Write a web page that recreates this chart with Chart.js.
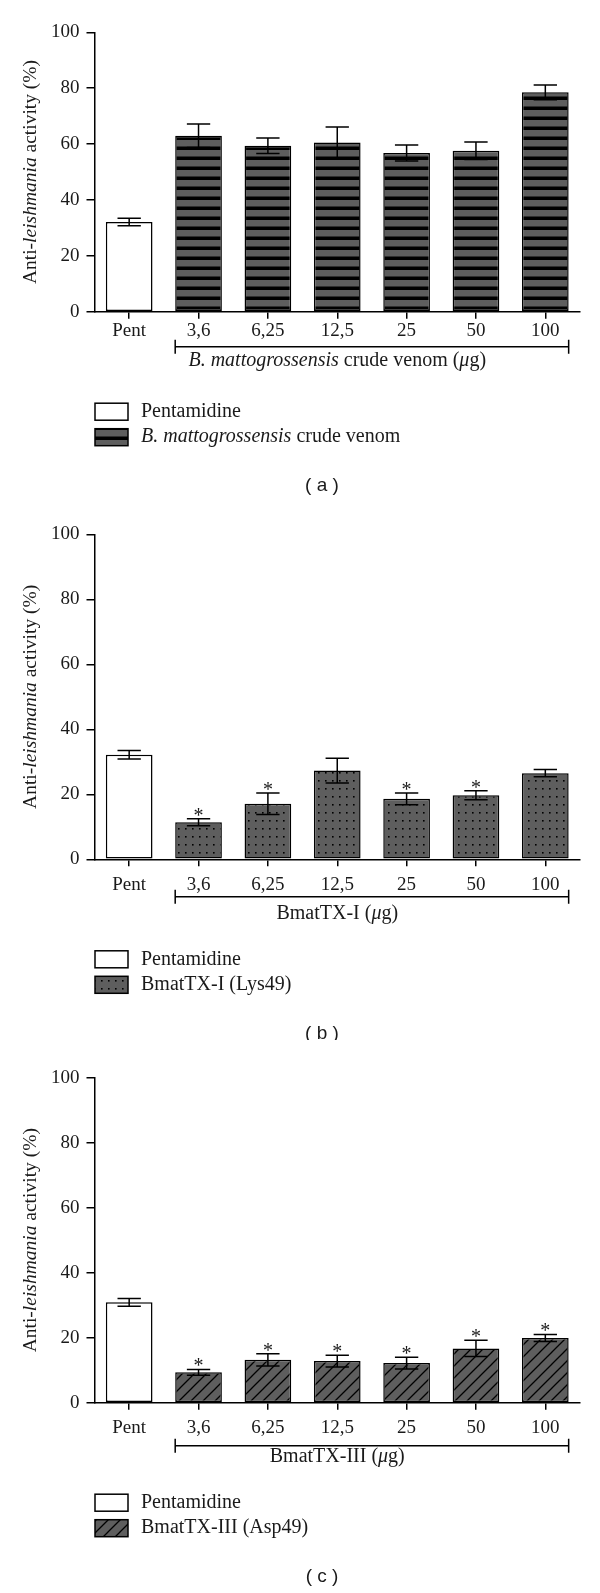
<!DOCTYPE html>
<html>
<head>
<meta charset="utf-8">
<script src="https://cdn.jsdelivr.net/npm/chart.js@4.4.1/dist/chart.umd.min.js"></script>
<style>
  html, body { margin: 0; padding: 0; background: #fff; }
  .panel { position: absolute; left: 0; width: 600px; }
  .panel canvas { display: block; }
</style>
</head>
<body>
<div class="panel" style="top:0"><canvas id="chartA" width="600" height="505"></canvas></div>
<div class="panel" style="top:505px"><canvas id="chartB" width="600" height="535"></canvas></div>
<div class="panel" style="top:1040px"><canvas id="chartC" width="600" height="553"></canvas></div>
<script>
// categories shared by the three panels
const categories = ["Pent", "3,6", "6,25", "12,5", "25", "50", "100"];
const yTicks = [0, 20, 40, 60, 80, 100];

// (a) crude venom
const pentA = 32.1;
const pentErrA = 1.35;
const venomA = [63.0, 59.4, 60.6, 56.8, 57.6, 78.5];
const venomErrA = [4.2, 2.8, 5.5, 2.9, 3.1, 2.6];
const starsA = [0, 0, 0, 0, 0, 0];

// (b) BmatTX-I
const pentB = 32.2;
const pentErrB = 1.3;
const venomB = [11.4, 17.1, 27.3, 18.6, 19.7, 26.5];
const venomErrB = [1.1, 3.3, 3.8, 1.8, 1.4, 1.1];
const starsB = [1, 1, 0, 1, 1, 0];

// (c) BmatTX-III
const pentC = 30.9;
const pentErrC = 1.2;
const venomC = [9.35, 13.2, 12.8, 12.2, 16.7, 19.9];
const venomErrC = [0.9, 1.9, 1.8, 1.8, 2.5, 1.1];
const starsC = [1, 1, 1, 1, 1, 1];

// text pieces: [text, italic]
const yTitle = [["Anti-", false], ["leishmania", true], [" activity (%)", false]];
const pentLabel = [["Pentamidine", false]];
const seriesLabelA = [["B. mattogrossensis", true], [" crude venom", false]];
const seriesLabelB = [["BmatTX-I (Lys49)", false]];
const seriesLabelC = [["BmatTX-III (Asp49)", false]];
const xTitleA = [["B. mattogrossensis", true], [" crude venom (", false], ["\u03bc", true], ["g)", false]];
const xTitleB = [["BmatTX-I (", false], ["\u03bc", true], ["g)", false]];
const xTitleC = [["BmatTX-III (", false], ["\u03bc", true], ["g)", false]];

const SERIF = '"Liberation Serif", "DejaVu Serif", serif';
const GREY = "#5e5e5e";

function makePattern(kind) {
  const c = document.createElement("canvas");
  const g = c.getContext("2d");
  if (kind === "stripes") {
    c.width = 10; c.height = 10;
    g.fillStyle = GREY; g.fillRect(0, 0, 10, 10);
    g.fillStyle = "#000"; g.fillRect(0, 6.5, 10, 3.5);
  } else if (kind === "dots") {
    c.width = 7; c.height = 8;
    g.fillStyle = GREY; g.fillRect(0, 0, 7, 8);
    g.fillStyle = "#000"; g.fillRect(3, 3, 1.6, 1.6);
  } else {
    c.width = 12; c.height = 12;
    g.fillStyle = GREY; g.fillRect(0, 0, 12, 12);
    g.strokeStyle = "#000"; g.lineWidth = 1.3;
    g.beginPath();
    g.moveTo(-1, 13); g.lineTo(13, -1);
    g.moveTo(-7, 7); g.lineTo(7, -7);
    g.moveTo(5, 19); g.lineTo(19, 5);
    g.stroke();
  }
  return document.createElement("canvas").getContext("2d").createPattern(c, "repeat");
}

function richWidth(ctx, segs, size) {
  let w = 0;
  segs.forEach(s => {
    ctx.font = (s[1] ? "italic " : "") + size + "px " + SERIF;
    w += ctx.measureText(s[0]).width;
  });
  return w;
}

function drawRich(ctx, segs, x, y, size, align) {
  let sx = x;
  if (align === "center") sx = x - richWidth(ctx, segs, size) / 2;
  ctx.textAlign = "left";
  ctx.textBaseline = "middle";
  ctx.fillStyle = "#1a1a1a";
  segs.forEach(s => {
    ctx.font = (s[1] ? "italic " : "") + size + "px " + SERIF;
    ctx.fillText(s[0], sx, y);
    sx += ctx.measureText(s[0]).width;
  });
}

const decoPlugin = {
  id: "deco",
  afterDatasetsDraw(chart) {
    const ctx = chart.ctx;
    const y = chart.scales.y;
    ctx.save();
    ctx.strokeStyle = "#000";
    ctx.lineWidth = 1.5;
    chart.data.datasets.forEach((ds, di) => {
      const meta = chart.getDatasetMeta(di);
      ds.data.forEach((v, i) => {
        if (v === null) return;
        const el = meta.data[i];
        const e = ds.errors[i];
        const top = y.getPixelForValue(v + e);
        const bot = y.getPixelForValue(v - e);
        const hw = el.width / 4;
        ctx.beginPath();
        ctx.moveTo(el.x, top); ctx.lineTo(el.x, bot);
        ctx.moveTo(el.x - hw, top); ctx.lineTo(el.x + hw, top);
        ctx.moveTo(el.x - hw, bot); ctx.lineTo(el.x + hw, bot);
        ctx.stroke();
        if (ds.stars && ds.stars[i]) {
          ctx.font = "20px " + SERIF;
          ctx.fillStyle = "#1a1a1a";
          ctx.textAlign = "center";
          ctx.textBaseline = "alphabetic";
          ctx.fillText("*", el.x, top + 3);
        }
      });
    });
    ctx.restore();
  },
  afterDraw(chart) {
    const o = chart.options.plugins.deco;
    const ctx = chart.ctx;
    const area = chart.chartArea;
    const axisY = area.bottom;
    ctx.save();

    // y axis title
    ctx.save();
    ctx.translate(31, (area.top + area.bottom) / 2);
    ctx.rotate(-Math.PI / 2);
    drawRich(ctx, yTitle, 0, 0, 19.5, "center");
    ctx.restore();

    // bracket under the dose groups
    const meta = chart.getDatasetMeta(1);
    const first = meta.data[1], last = meta.data[meta.data.length - 1];
    const bx1 = first.x - first.width / 2, bx2 = last.x + last.width / 2;
    const by = axisY + o.bracket;
    ctx.strokeStyle = "#000";
    ctx.lineWidth = 1.5;
    ctx.beginPath();
    ctx.moveTo(bx1, by); ctx.lineTo(bx2, by);
    ctx.moveTo(bx1, by - 7); ctx.lineTo(bx1, by + 7);
    ctx.moveTo(bx2, by - 7); ctx.lineTo(bx2, by + 7);
    ctx.stroke();

    // x title
    drawRich(ctx, o.xTitle, (area.left + area.right) / 2, axisY + o.title, 20, "center");

    // legend
    chart.data.datasets.forEach((ds, di) => {
      const ly = axisY + 100 + di * 25.5;
      ctx.fillStyle = ds.backgroundColor;
      ctx.fillRect(95, ly - 8.5, 33, 17);
      ctx.strokeStyle = "#000";
      ctx.lineWidth = 1.5;
      ctx.strokeRect(95, ly - 8.5, 33, 17);
      drawRich(ctx, ds.richLabel, 141, ly, 20, "left");
    });

    // panel caption
    ctx.font = '19px "Liberation Sans", Arial, sans-serif';
    ctx.fillStyle = "#1a1a1a";
    ctx.textAlign = "center";
    ctx.textBaseline = "middle";
    ctx.fillText(o.caption, 322, axisY + 174);
    ctx.restore();
  }
};

function buildChart(id, cfg) {
  const canvas = document.getElementById(id);
  const H = canvas.height;
  const pentData = [cfg.pent, ...cfg.venom.map(() => null)];
  const venomData = [null, ...cfg.venom];
  return new Chart(canvas.getContext("2d"), {
    type: "bar",
    data: {
      labels: categories,
      datasets: [
        {
          label: "Pentamidine",
          richLabel: pentLabel,
          data: pentData,
          errors: [cfg.pentErr, ...cfg.venomErr.map(() => 0)],
          backgroundColor: "#ffffff",
          borderColor: "#000",
          borderWidth: 1.5,
          borderSkipped: false,
        },
        {
          label: cfg.seriesLabel.map(s => s[0]).join(""),
          richLabel: cfg.seriesLabel,
          data: venomData,
          errors: [0, ...cfg.venomErr],
          stars: [0, ...cfg.stars],
          backgroundColor: makePattern(cfg.pattern),
          borderColor: "#000",
          borderWidth: 1.5,
          borderSkipped: false,
        },
      ],
    },
    options: {
      responsive: false,
      animation: false,
      devicePixelRatio: 1,
      grouped: false,
      barPercentage: 0.673,
      categoryPercentage: 1,
      layout: { padding: { top: cfg.top, left: 0, right: 20, bottom: 0 } },
      plugins: {
        legend: { display: false },
        tooltip: { enabled: false },
        deco: { xTitle: cfg.xTitle, bracket: cfg.bracket, title: cfg.titleOff, caption: cfg.caption },
      },
      scales: {
        x: {
          offset: true,
          afterFit(scale) { scale.height = H - cfg.axisY; },
          grid: { offset: false, drawOnChartArea: false, drawTicks: true, tickLength: 7, color: "#000", lineWidth: 1.5 },
          border: { display: true, color: "#000", width: 1.5 },
          ticks: { color: "#1a1a1a", padding: cfg.tickPad, font: { family: SERIF, size: 19 }, maxRotation: 0, autoSkip: false },
        },
        y: {
          min: yTicks[0],
          max: yTicks[yTicks.length - 1],
          afterFit(scale) { scale.width = 94.5; },
          afterBuildTicks(scale) { scale.ticks = yTicks.map(v => ({ value: v })); },
          grid: { drawOnChartArea: false, drawTicks: true, tickLength: 8, color: "#000", lineWidth: 1.5 },
          border: { display: true, color: "#000", width: 1.5 },
          ticks: { color: "#1a1a1a", padding: 7, font: { family: SERIF, size: 19 } },
        },
      },
    },
    plugins: [decoPlugin],
  });
}

buildChart("chartA", {
  pent: pentA, pentErr: pentErrA, venom: venomA, venomErr: venomErrA, stars: starsA,
  seriesLabel: seriesLabelA, xTitle: xTitleA, pattern: "stripes", caption: "( a )",
  top: 32.3, axisY: 311.7, tickPad: 1, bracket: 35, titleOff: 49,
});
buildChart("chartB", {
  pent: pentB, pentErr: pentErrB, venom: venomB, venomErr: venomErrB, stars: starsB,
  seriesLabel: seriesLabelB, xTitle: xTitleB, pattern: "dots", caption: "( b )",
  top: 29.3, axisY: 354.3, tickPad: 7, bracket: 37.5, titleOff: 54,
});
buildChart("chartC", {
  pent: pentC, pentErr: pentErrC, venom: venomC, venomErr: venomErrC, stars: starsC,
  seriesLabel: seriesLabelC, xTitle: xTitleC, pattern: "hatch", caption: "( c )",
  top: 37.7, axisY: 362.7, tickPad: 7, bracket: 43, titleOff: 54,
});
</script>
</body>
</html>
